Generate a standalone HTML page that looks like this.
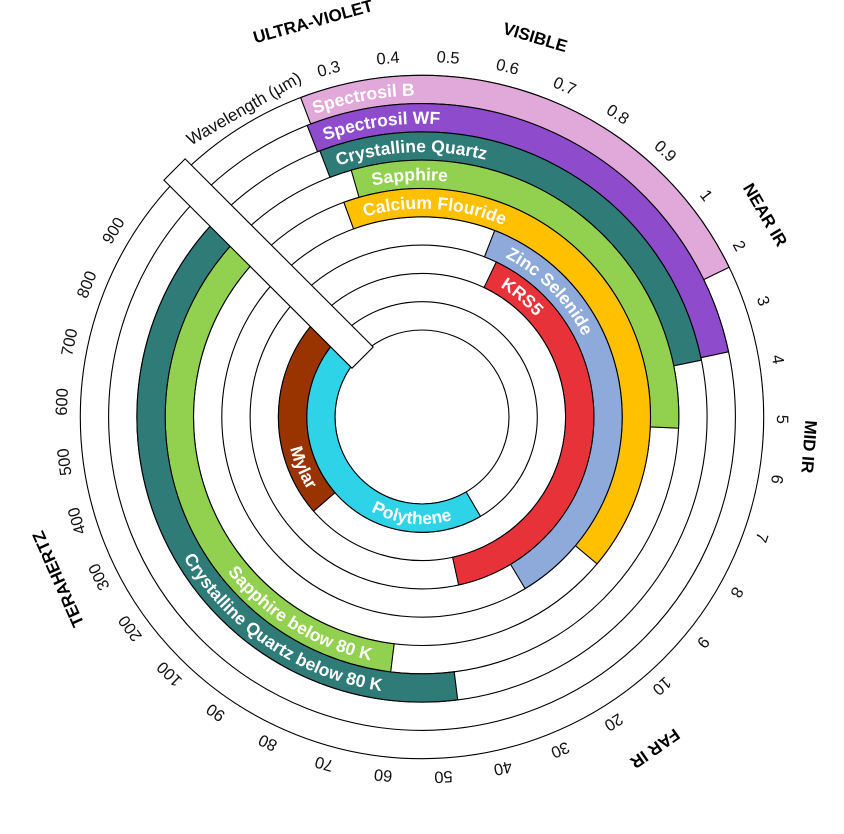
<!DOCTYPE html>
<html><head><meta charset="utf-8">
<style>
html,body{margin:0;padding:0;background:#fff;}
svg{display:block;}
text{font-family:"Liberation Sans",sans-serif;}
</style></head>
<body>
<svg id="s" width="844" height="834" viewBox="0 0 844 834" xmlns="http://www.w3.org/2000/svg"></svg>
<script>
var NS="http://www.w3.org/2000/svg",S=document.getElementById('s');
var cx=422,cy=417;
var R=[87,115.3,143.6,171.9,200.2,228.5,256.8,285.1,313.4,341.7];
function el(t,a,p){var e=document.createElementNS(NS,t);for(var k in a)e.setAttribute(k,a[k]);(p||S).appendChild(e);return e;}
function pt(r,a){var t=a*Math.PI/180;return [cx+r*Math.sin(t),cy-r*Math.cos(t)];}
function f(p){return p[0].toFixed(2)+" "+p[1].toFixed(2);}
function sector(r1,r2,a1,a2,fill){
 var large=(a2-a1)>180?1:0;
 var d="M"+f(pt(r2,a1))+"A"+r2+" "+r2+" 0 "+large+" 1 "+f(pt(r2,a2))+"L"+f(pt(r1,a2))+"A"+r1+" "+r1+" 0 "+large+" 0 "+f(pt(r1,a1))+"Z";
 el('path',{d:d,fill:fill,stroke:'#000','stroke-width':1.1});
}
for(var i=0;i<R.length;i++){el('circle',{cx:cx,cy:cy,r:R[i],fill:'none',stroke:'#000','stroke-width':1.1});}
function ring(n){return [R[n-1],R[n]];}
var bands=[
 [9,-20.8,64,'#e0a9d9'],
 [8,-21.5,78,'#8e4ccc'],
 [7,-21,78.5,'#2e7b78'],
 [6,-16,92.5,'#92d050'],
 [5,-20,130,'#ffc000'],
 [4,21.3,149,'#8eaadb'],
 [3,25.6,167.7,'#e8323a'],
 [1,149.5,312,'#2fd3e8'],
 [2,229,312,'#993300'],
 [6,187,312,'#92d050'],
 [7,172.8,312,'#2e7b78']
];
bands.forEach(function(b){var r=ring(b[0]);sector(r[0],r[1],b[1],b[2],b[3]);});
var g=el('g',{transform:'rotate(-45 '+cx+' '+cy+')'});
el('rect',{x:cx-15,y:cy-350,width:30,height:350-84,fill:'#fff',stroke:'#000','stroke-width':1.1},g);
var pid=0;
function arcText(txt,r,a1,a2,cw,size,anchor,off){
 var id='p'+(pid++),d;
 if(cw){d="M"+f(pt(r,a1))+"A"+r+" "+r+" 0 0 1 "+f(pt(r,a2));}
 else{d="M"+f(pt(r,a2))+"A"+r+" "+r+" 0 0 0 "+f(pt(r,a1));}
 el('path',{id:id,d:d,fill:'none'});
 var t=el('text',{fill:'#fff','font-size':size,'font-weight':'bold','text-anchor':anchor});
 var tp=el('textPath',{href:'#'+id,startOffset:off},t);
 tp.setAttribute('href','#'+id);
 tp.textContent=txt;
}
function mid(n){return (R[n-1]+R[n])/2;}
var FS=17.5;
arcText('Spectrosil B',mid(9)-6,-19.5,60,true,FS,'start','0');
arcText('Spectrosil WF',mid(8)-6,-19.3,75,true,FS,'start','0');
arcText('Crystalline Quartz',mid(7)-6,-18.5,75,true,FS,'start','0');
arcText('Sapphire',mid(6)-6,-12,90,true,FS,'start','0');
arcText('Calcium Flouride',mid(5)-6,-16,125,true,FS,'start','0');
arcText('Zinc Selenide',mid(4)-6,27.5,145,true,FS,'start','0');
arcText('KRS5',mid(3)-6,31,160,true,FS,'start','0');
arcText('Polythene',mid(1)+6,146,226,false,FS,'middle','50%');
arcText('Mylar',mid(2)+6,207,287,false,FS,'middle','50%');
arcText('Sapphire below 80 K',mid(6)+6,192,300,false,FS,'end','100%');
arcText('Crystalline Quartz below 80 K',mid(7)+6,188.5,300,false,FS,'end','100%');
var ticks=['0.3','0.4','0.5','0.6','0.7','0.8','0.9','1','2','3','4','5','6','7','8','9','10','20','30','40','50','60','70','80','90','100','200','300','400','500','600','700','800','900'];
ticks.forEach(function(s,i){
 var a=-15+9.58*i,p=pt(360,a);
 var t=el('text',{x:p[0],y:p[1],'font-size':16.5,fill:'#111','text-anchor':'middle','dominant-baseline':'central',transform:'rotate('+a.toFixed(2)+' '+p[0].toFixed(2)+' '+p[1].toFixed(2)+')'});
 t.textContent=s;
});
(function(){var a=-30,p=pt(356,a);var t=el('text',{x:p[0],y:p[1],'font-size':17,fill:'#111','text-anchor':'middle','dominant-baseline':'central',transform:'rotate('+a+' '+p[0]+' '+p[1]+')'});t.textContent='Wavelength (\u00b5m)';})();
[['ULTRA-VIOLET',-15.4,410],['VISIBLE',16.6,396],['NEAR IR',59.5,398],['MID IR',94.4,388],['FAR IR',144.9,405],['TERAHERTZ',246,398]].forEach(function(s){
 var p=pt(s[2],s[1]);
 var t=el('text',{x:p[0],y:p[1],'font-size':17,'font-weight':'bold',fill:'#000','text-anchor':'middle','dominant-baseline':'central',transform:'rotate('+s[1]+' '+p[0].toFixed(2)+' '+p[1].toFixed(2)+')'});
 t.textContent=s[0];
});
</script>
</body></html>
